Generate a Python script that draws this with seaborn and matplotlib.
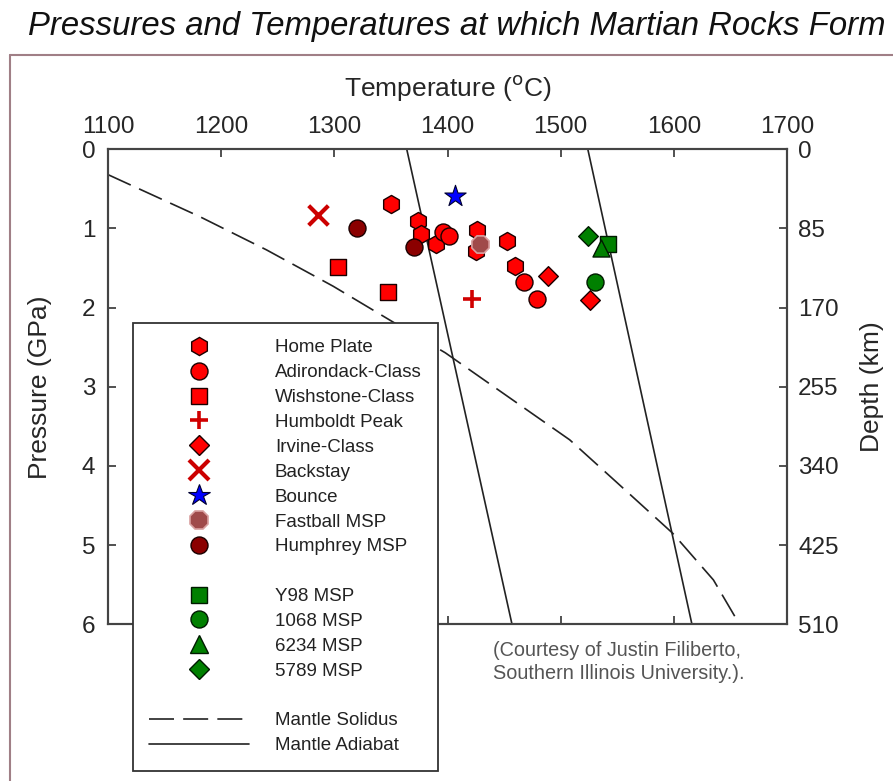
import numpy as np
import pandas as pd
import matplotlib
matplotlib.use("Agg")
import matplotlib.pyplot as plt
from matplotlib.lines import Line2D
import seaborn as sns

# ---------------- data ----------------
home_plate_T = [1350, 1374, 1377, 1390, 1426, 1425, 1453, 1460]
home_plate_P = [0.69, 0.90, 1.07, 1.20, 1.02, 1.29, 1.16, 1.47]

adirondack_T = [1396, 1401, 1468, 1479]
adirondack_P = [1.05, 1.10, 1.68, 1.89]

wishstone_T = [1303, 1347]
wishstone_P = [1.49, 1.80]

humboldt_T = [1422]
humboldt_P = [1.89]

irvine_T = [1489, 1526]
irvine_P = [1.60, 1.90]

backstay_T = [1286]
backstay_P = [0.83]

bounce_T = [1407]
bounce_P = [0.59]

fastball_T = [1429]
fastball_P = [1.20]

humphrey_T = [1320, 1370]
humphrey_P = [1.00, 1.24]

y98_T = [1542]
y98_P = [1.20]

msp1068_T = [1530]
msp1068_P = [1.68]

msp6234_T = [1536]
msp6234_P = [1.25]

msp5789_T = [1524]
msp5789_P = [1.09]

# Mantle solidus curve
solidus_T = [1100, 1181, 1240, 1299, 1354, 1398, 1458, 1508, 1549, 1599, 1635, 1658]
solidus_P = [0.32, 0.85, 1.27, 1.73, 2.20, 2.57, 3.17, 3.67, 4.20, 4.85, 5.44, 6.00]

# Two mantle adiabats (temperature at 0 and 6 GPa)
adiabat1_T = [1364, 1457]
adiabat2_T = [1524, 1616]
adiabat_P = [0, 6]

temp_ticks = [1100, 1200, 1300, 1400, 1500, 1600, 1700]
pressure_ticks = [0, 1, 2, 3, 4, 5, 6]
depth_ticks = [0, 85, 170, 255, 340, 425, 510]

# ---------------- styles ----------------
RED = "#ff0000"
GREEN = "#008000"
groups = [
    ("Home Plate", home_plate_T, home_plate_P, dict(marker="h", facecolor=RED, edgecolor="#1a0000", s=170, lw=1.0)),
    ("Adirondack-Class", adirondack_T, adirondack_P, dict(marker="o", facecolor=RED, edgecolor="#1a0000", s=150, lw=1.0)),
    ("Wishstone-Class", wishstone_T, wishstone_P, dict(marker="s", facecolor=RED, edgecolor="#1a0000", s=120, lw=1.0)),
    ("Humboldt Peak", humboldt_T, humboldt_P, dict(marker="+", facecolor="#d00000", edgecolor="#d00000", s=150, lw=2.6)),
    ("Irvine-Class", irvine_T, irvine_P, dict(marker="D", facecolor=RED, edgecolor="#1a0000", s=100, lw=1.0)),
    ("Backstay", backstay_T, backstay_P, dict(marker="x", facecolor="#cc0000", edgecolor="#cc0000", s=200, lw=3.0)),
    ("Bounce", bounce_T, bounce_P, dict(marker="*", facecolor="#0000ff", edgecolor="#000030", s=260, lw=0.8)),
    ("Fastball MSP", fastball_T, fastball_P, dict(marker="8", facecolor="#a04a4a", edgecolor="#d9a0a0", s=180, lw=1.2)),
    ("Humphrey MSP", humphrey_T, humphrey_P, dict(marker="o", facecolor="#8b0000", edgecolor="#1a0000", s=150, lw=1.0)),
    (None, None, None, None),
    ("Y98 MSP", y98_T, y98_P, dict(marker="s", facecolor=GREEN, edgecolor="#001a00", s=120, lw=1.0)),
    ("1068 MSP", msp1068_T, msp1068_P, dict(marker="o", facecolor=GREEN, edgecolor="#001a00", s=150, lw=1.0)),
    ("6234 MSP", msp6234_T, msp6234_P, dict(marker="^", facecolor=GREEN, edgecolor="#001a00", s=150, lw=1.0)),
    ("5789 MSP", msp5789_T, msp5789_P, dict(marker="D", facecolor=GREEN, edgecolor="#001a00", s=100, lw=1.0)),
]

sns.set_theme(style="white")
plt.rcParams["font.family"] = ["Liberation Sans", "DejaVu Sans"]

fig = plt.figure(figsize=(8.93, 7.81), dpi=100)
W, H = 893, 781
ax_left, ax_right, ax_top, ax_bot = 108, 787, 149.3, 624.3
ax = fig.add_axes([ax_left / W, 1 - ax_bot / H, (ax_right - ax_left) / W, (ax_bot - ax_top) / H])

# lines
LINEC = "#222222"
sns.lineplot(x=solidus_T, y=solidus_P, ax=ax, color=LINEC, lw=1.2, sort=False, estimator=None)
ax.lines[-1].set_dashes((15, 5.5))
sns.lineplot(x=adiabat1_T, y=adiabat_P, ax=ax, color=LINEC, lw=1.2, sort=False, estimator=None)
sns.lineplot(x=adiabat2_T, y=adiabat_P, ax=ax, color=LINEC, lw=1.2, sort=False, estimator=None)

# points
handles = []
for name, T, P, st in groups:
    if name is None:
        handles.append(Line2D([], [], linestyle="none", marker=None, label=" "))
        continue
    filled = st["marker"] not in ("+", "x")
    if filled:
        sns.scatterplot(x=T, y=P, ax=ax, marker=st["marker"], s=st["s"],
                        color=st["facecolor"], edgecolor=st["edgecolor"],
                        linewidth=st["lw"], zorder=3)
    else:
        sns.scatterplot(x=T, y=P, ax=ax, marker=st["marker"], s=st["s"],
                        color=st["facecolor"], linewidth=st["lw"], zorder=3)
    handles.append(Line2D([], [], linestyle="none", marker=st["marker"],
                          markersize=np.sqrt(st["s"]),
                          markerfacecolor=st["facecolor"],
                          markeredgecolor=st["edgecolor"],
                          markeredgewidth=st["lw"], label=name))
handles.append(Line2D([], [], linestyle="none", marker=None, label=" "))
handles.append(Line2D([], [], color=LINEC, lw=1.2, dashes=(15, 5.5), label="Mantle Solidus"))
handles.append(Line2D([], [], color=LINEC, lw=1.2, label="Mantle Adiabat"))

# axes styling
ax.set_xlim(1100, 1700)
ax.set_ylim(6, 0)
ax.set_xticks(temp_ticks)
ax.set_yticks(pressure_ticks)
ax.set_yticklabels([str(v) for v in pressure_ticks])
ax.xaxis.tick_top()
ax.tick_params(axis="x", which="both", top=True, bottom=True, labeltop=True,
               labelbottom=False, direction="in", length=6, width=1.2,
               color="#333333", labelsize=17.5, pad=8)
ax.tick_params(axis="y", which="both", left=True, right=False, direction="in",
               length=6, width=1.2, color="#333333", labelsize=17.5, pad=9)
ax.set_xlabel("Temperature ($^{\\mathrm{o}}$C)", fontsize=19)
ax.xaxis.set_label_position("top")
ax.xaxis.set_label_coords(0.5, 1.112)
ax.set_ylabel("Pressure (GPa)", fontsize=19)
ax.yaxis.set_label_coords(-0.0825, 0.5)
for sp in ax.spines.values():
    sp.set_color("#444444")
    sp.set_linewidth(1.5)

ax2 = ax.twinx()
ax2.set_ylim(510, 0)
ax2.set_yticks(depth_ticks)
ax2.set_yticklabels([str(v) for v in depth_ticks])
ax2.tick_params(axis="y", direction="in", length=6, width=1.2, color="#333333",
                labelsize=17.5, pad=8)
ax2.set_ylabel("Depth (km)", fontsize=19)
ax2.yaxis.set_label_coords(1.1075, 0.5)
for sp in ax2.spines.values():
    sp.set_color("#444444")
    sp.set_linewidth(1.5)

# legend
leg = fig.legend(handles=handles, loc="upper left",
                 bbox_to_anchor=(133 / W, 1 - 323 / H), bbox_transform=fig.transFigure,
                 borderaxespad=0, frameon=True, fancybox=False, edgecolor="#333333",
                 framealpha=1, fontsize=13.5, handlelength=5.3, handletextpad=1.4,
                 labelspacing=0.413, borderpad=0.87, markerscale=1.0)
leg.get_frame().set_linewidth(1.3)
for t in leg.get_texts():
    t.set_color("#222222")

# title, credit and outer frame
fig.text(28 / W, 1 - 35 / H, "Pressures and Temperatures at which Martian Rocks Form",
         fontsize=23.7, style="italic", ha="left", va="baseline", color="#111111")
fig.text(493 / W, 1 - 679 / H, "(Courtesy of Justin Filiberto,\nSouthern Illinois University.).",
         fontsize=14.3, ha="left", va="baseline", color="#555555", linespacing=1.25)
fig.add_artist(Line2D([10 / W, 1.0], [1 - 55 / H, 1 - 55 / H], transform=fig.transFigure,
                      color="#a07f86", lw=1.5))
fig.add_artist(Line2D([10 / W, 10 / W], [1 - 55 / H, 0.0], transform=fig.transFigure,
                      color="#a07f86", lw=1.5))

fig.savefig("out.png", dpi=100)
